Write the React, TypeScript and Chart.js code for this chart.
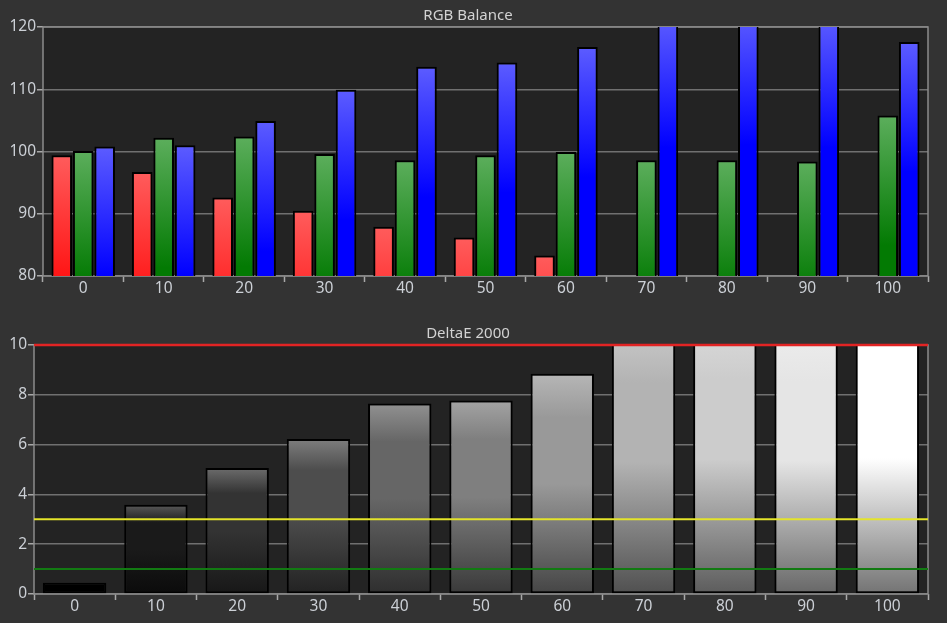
import { useEffect, useRef } from 'react';
import { Chart, registerables } from 'chart.js';

Chart.register(...registerables);

// stimulus levels (% grey)
const levels = [0, 10, 20, 30, 40, 50, 60, 70, 80, 90, 100];

// RGB balance, red is off the bottom of the scale from 70 up
const redValues = [99.4, 96.7, 92.6, 90.5, 87.9, 86.2, 83.3, null, null, null, null];
const greenValues = [100.1, 102.2, 102.4, 99.6, 98.6, 99.4, 99.9, 98.6, 98.6, 98.4, 105.8];
const blueValues = [100.8, 101.0, 104.9, 109.9, 113.6, 114.3, 116.8, 121.5, 122, 121.5, 117.6];
const rgbTicks = [80, 90, 100, 110, 120];

// DeltaE 2000, 70 and up go past the top of the scale
const deltaE = [0.45, 3.58, 5.06, 6.22, 7.65, 7.77, 8.85, 10.6, 10.8, 10.7, 10.9];
const deltaTicks = [0, 2, 4, 6, 8, 10];
const thresholds = [1, 3, 10];

const thresholdColors = ['#127a12', '#e4e42a', '#e22424'];
const FONT = '"Noto Sans", "DejaVu Sans", sans-serif';
const TICK_COLOR = '#ccd0d6';

const grey = (v: number) => {
  const n = Math.max(0, Math.min(255, Math.round(v)));
  return `rgb(${n},${n},${n})`;
};

const rgbFill = (light: string, full: string) => (c: any) => {
  const chart = c.chart;
  const y = chart.scales?.y;
  const v = c.raw;
  if (!chart.chartArea || v == null || !y) return full;
  const top = y.getPixelForValue(v);
  const g = chart.ctx.createLinearGradient(0, top, 0, top + 130);
  g.addColorStop(0, light);
  g.addColorStop(1, full);
  return g;
};

const greyFill = (c: any) => {
  const chart = c.chart;
  const y = chart.scales?.y;
  const v = c.raw;
  const s = levels[c.dataIndex] * 2.55;
  if (!chart.chartArea || v == null || !y) return grey(s);
  const top = y.getPixelForValue(v);
  const base = y.getPixelForValue(0);
  const g = chart.ctx.createLinearGradient(0, top, 0, base);
  g.addColorStop(0, grey(s + (255 - s) * 0.28));
  g.addColorStop(0.2, grey(s));
  g.addColorStop(0.5, grey(s));
  g.addColorStop(1, grey(s * 0.45));
  return g;
};

const framePlugin = (title: string, lines: number[] = []) => ({
  id: 'frame',
  beforeDraw(chart: any) {
    const { ctx, chartArea: a } = chart;
    ctx.save();
    ctx.fillStyle = '#232323';
    ctx.fillRect(a.left, a.top, a.width, a.height);
    ctx.restore();
  },
  beforeDatasetsDraw(chart: any) {
    const { ctx, chartArea: a } = chart;
    ctx.save();
    ctx.strokeStyle = '#8c8c8c';
    ctx.lineWidth = 1.5;
    ctx.strokeRect(a.left, a.top, a.width, a.height);
    ctx.restore();
  },
  afterDatasetsDraw(chart: any) {
    const { ctx, chartArea: a } = chart;
    const y = chart.scales.y;
    ctx.save();
    lines.forEach((v, i) => {
      const py = y.getPixelForValue(v);
      ctx.strokeStyle = thresholdColors[i];
      ctx.lineWidth = v === 10 ? 2.5 : 2;
      ctx.beginPath();
      ctx.moveTo(a.left, py);
      ctx.lineTo(a.right, py);
      ctx.stroke();
    });
    ctx.restore();
  },
  afterDraw(chart: any) {
    const { ctx } = chart;
    ctx.save();
    ctx.fillStyle = '#d2d2d2';
    ctx.font = `15px ${FONT}`;
    ctx.textAlign = 'center';
    ctx.textBaseline = 'middle';
    ctx.fillText(title, 468, chart.chartArea.top - 11);
    ctx.restore();
  },
});

const scales = (yTicks: number[], yWidth: number, xHeight: number) => ({
  x: {
    offset: true,
    afterFit: (s: any) => { s.height = xHeight; },
    grid: { offset: true, drawOnChartArea: false, drawTicks: true, tickLength: 6, tickColor: '#a8a8a8', tickWidth: 1.5 },
    border: { display: false },
    ticks: { color: TICK_COLOR, padding: -3, font: { family: FONT, size: 15.5 } },
  },
  y: {
    min: yTicks[0],
    max: yTicks[yTicks.length - 1],
    afterFit: (s: any) => { s.width = yWidth; },
    afterBuildTicks: (s: any) => { s.ticks = yTicks.map((v) => ({ value: v })); },
    grid: { color: '#707070', lineWidth: 1.5, tickLength: 6, tickColor: '#a8a8a8', tickWidth: 1.5 },
    border: { display: false },
    ticks: { color: TICK_COLOR, padding: 1, font: { family: FONT, size: 15.5 } },
  },
});

function RgbChart() {
  const ref = useRef<HTMLCanvasElement>(null);
  useEffect(() => {
    const bar = { borderColor: '#000', borderWidth: 2, borderSkipped: false, clip: 0, categoryPercentage: 0.8, barPercentage: 0.96 };
    const chart = new Chart(ref.current!, {
      type: 'bar',
      data: {
        labels: levels.map(String),
        datasets: [
          { label: 'Red', data: redValues, backgroundColor: rgbFill('#ff5c5c', '#ff1010'), ...bar },
          { label: 'Green', data: greenValues, backgroundColor: rgbFill('#5cae5c', '#037a03'), ...bar },
          { label: 'Blue', data: blueValues, backgroundColor: rgbFill('#5c5cff', '#0000ff'), ...bar },
        ] as any,
      },
      options: {
        responsive: false,
        animation: false,
        layout: { padding: { top: 27, right: 19, left: 0, bottom: 0 } },
        plugins: { legend: { display: false }, tooltip: { enabled: false } },
        scales: scales(rgbTicks, 43, 24) as any,
      },
      plugins: [framePlugin('RGB Balance')],
    });
    return () => chart.destroy();
  }, []);
  return <canvas ref={ref} width={947} height={300} style={{ position: 'absolute', left: 0, top: 0 }} />;
}

function DeltaChart() {
  const ref = useRef<HTMLCanvasElement>(null);
  useEffect(() => {
    const chart = new Chart(ref.current!, {
      type: 'bar',
      data: {
        labels: levels.map(String),
        datasets: [
          {
            label: 'DeltaE 2000',
            data: deltaE,
            backgroundColor: greyFill,
            borderColor: '#000',
            borderWidth: 2,
            borderSkipped: false,
            clip: 0,
            categoryPercentage: 1,
            barPercentage: 0.78,
          } as any,
        ],
      },
      options: {
        responsive: false,
        animation: false,
        layout: { padding: { top: 25, right: 19, left: 0, bottom: 0 } },
        plugins: { legend: { display: false }, tooltip: { enabled: false } },
        scales: scales(deltaTicks, 34, 29) as any,
      },
      plugins: [framePlugin('DeltaE 2000', thresholds)],
    });
    return () => chart.destroy();
  }, []);
  return <canvas ref={ref} width={947} height={303} style={{ position: 'absolute', left: 0, top: 320 }} />;
}

export default function App() {
  return (
    <div style={{ position: 'fixed', left: 0, top: 0, width: 947, height: 623, background: '#333333', overflow: 'hidden' }}>
      <RgbChart />
      <DeltaChart />
    </div>
  );
}
